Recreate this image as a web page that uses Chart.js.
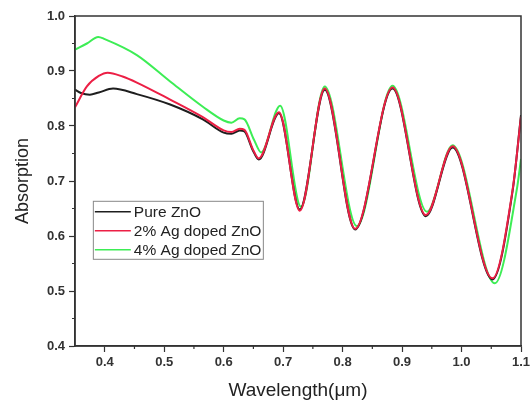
<!DOCTYPE html>
<html>
<head>
<meta charset="utf-8">
<script src="https://cdn.jsdelivr.net/npm/chart.js@4.4.1/dist/chart.umd.min.js"></script>
<style>
    html, body { margin: 0; padding: 0; background: #fff; }
    #wrap { position: relative; width: 530px; height: 400px; }
</style>
</head>
<body>
<div id="wrap"><canvas id="chart" width="530" height="400"></canvas></div>
<script>
// Wavelength (um) / absorption values
var pureX = [0.35, 0.36, 0.375, 0.39, 0.414, 0.454, 0.51, 0.565, 0.60, 0.613, 0.627, 0.635, 0.649, 0.659, 0.693, 0.728, 0.770, 0.821, 0.884, 0.940, 0.985, 1.052, 1.086, 1.1];
var pureY = [0.866, 0.860, 0.857, 0.861, 0.868, 0.858, 0.839, 0.812, 0.788, 0.786, 0.792, 0.790, 0.756, 0.739, 0.823, 0.648, 0.866, 0.612, 0.868, 0.636, 0.761, 0.521, 0.683, 0.82];

var agTwoX = [0.35, 0.37, 0.39, 0.405, 0.43, 0.454, 0.51, 0.565, 0.60, 0.613, 0.627, 0.635, 0.649, 0.659, 0.693, 0.728, 0.770, 0.821, 0.884, 0.940, 0.985, 1.052, 1.086, 1.1];
var agTwoY = [0.834, 0.872, 0.891, 0.897, 0.890, 0.879, 0.848, 0.816, 0.792, 0.789, 0.795, 0.793, 0.758, 0.741, 0.825, 0.646, 0.868, 0.613, 0.870, 0.638, 0.763, 0.523, 0.685, 0.817];

var agFourX = [0.35, 0.37, 0.389, 0.40, 0.454, 0.51, 0.565, 0.60, 0.613, 0.627, 0.635, 0.651, 0.663, 0.695, 0.730, 0.770, 0.824, 0.884, 0.942, 0.985, 1.056, 1.093, 1.1];
var agFourY = [0.939, 0.950, 0.962, 0.958, 0.929, 0.881, 0.835, 0.810, 0.806, 0.814, 0.812, 0.775, 0.752, 0.837, 0.653, 0.872, 0.618, 0.873, 0.644, 0.765, 0.514, 0.685, 0.74];

var seriesLabels = ['Pure ZnO', '2% Ag doped ZnO', '4% Ag doped ZnO'];
var seriesColors = ['#1e1e1e', '#ec1f45', '#3ded55'];

var xTicks = [0.4, 0.5, 0.6, 0.7, 0.8, 0.9, 1.0, 1.1];
var xMinor = [0.45, 0.55, 0.65, 0.75, 0.85, 0.95, 1.05];
var yTicks = [0.4, 0.5, 0.6, 0.7, 0.8, 0.9, 1.0];
var yMinor = [0.45, 0.55, 0.65, 0.75, 0.85, 0.95];

function toPoints(xs, ys) {
    return xs.map(function(x, i) { return { x: x, y: ys[i] }; });
}

var AXIS_COLOR = '#333';
var tickFont = { family: '"Liberation Sans", Arial, sans-serif', size: 13, weight: 'bold' };

// frame on top/right, minor ticks, and the inset legend
var framePlugin = {
    id: 'frame',
    afterDraw: function(chart) {
        var ctx = chart.ctx;
        var a = chart.chartArea;
        var xs = chart.scales.x, ys = chart.scales.y;
        ctx.save();
        ctx.strokeStyle = AXIS_COLOR;
        ctx.lineWidth = 1.5;
        ctx.strokeRect(a.left, a.top, a.right - a.left, a.bottom - a.top);

        ctx.lineWidth = 1.2;
        ctx.beginPath();
        xMinor.forEach(function(v) {
            var px = xs.getPixelForValue(v);
            ctx.moveTo(px, a.bottom);
            ctx.lineTo(px, a.bottom + 3);
        });
        yMinor.forEach(function(v) {
            var py = ys.getPixelForValue(v);
            ctx.moveTo(a.left, py);
            ctx.lineTo(a.left - 3, py);
        });
        ctx.stroke();

        // legend box
        var w = a.right - a.left, h = a.bottom - a.top;
        var bx = a.left + w * 0.04, by = a.top + h * 0.56;
        var bw = 170, bh = 58;
        ctx.fillStyle = '#fff';
        ctx.fillRect(bx, by, bw, bh);
        ctx.strokeStyle = '#888';
        ctx.lineWidth = 1;
        ctx.strokeRect(bx + 0.5, by + 0.5, bw, bh);
        ctx.font = '15.5px "Liberation Sans", Arial, sans-serif';
        ctx.textBaseline = 'middle';
        seriesLabels.forEach(function(label, i) {
            var ly = by + 11 + i * 19;
            ctx.strokeStyle = seriesColors[i];
            ctx.lineWidth = 1.5;
            ctx.beginPath();
            ctx.moveTo(bx + 2, ly);
            ctx.lineTo(bx + 38, ly);
            ctx.stroke();
            ctx.fillStyle = '#222';
            ctx.fillText(label, bx + 41, ly + 1);
        });
        ctx.restore();
    }
};

var ctx = document.getElementById('chart').getContext('2d');
new Chart(ctx, {
    type: 'line',
    data: {
        datasets: [
            { label: seriesLabels[0], data: toPoints(pureX, pureY), borderColor: seriesColors[0], order: 1 },
            { label: seriesLabels[1], data: toPoints(agTwoX, agTwoY), borderColor: seriesColors[1], order: 0 },
            { label: seriesLabels[2], data: toPoints(agFourX, agFourY), borderColor: seriesColors[2], order: 2 }
        ]
    },
    options: {
        responsive: false,
        animation: false,
        layout: { padding: { top: 16, right: 9, left: 0, bottom: 0 } },
        elements: {
            point: { radius: 0 },
            line: { borderWidth: 2, cubicInterpolationMode: 'monotone', fill: false }
        },
        plugins: {
            legend: { display: false },
            tooltip: { enabled: false }
        },
        scales: {
            x: {
                type: 'linear',
                min: 0.35,
                max: 1.1,
                afterBuildTicks: function(scale) {
                    scale.ticks = xTicks.map(function(v) { return { value: v }; });
                },
                afterFit: function(scale) {
                    scale.height = 54;
                    scale.paddingRight = 0; // let "1.1" hang off the edge like the original
                },
                grid: { drawOnChartArea: false, drawTicks: true, tickLength: 6, tickColor: AXIS_COLOR, tickWidth: 1.2 },
                border: { color: AXIS_COLOR, width: 1.5 },
                ticks: {
                    color: '#333',
                    font: tickFont,
                    padding: 3,
                    maxRotation: 0,
                    autoSkip: false,
                    callback: function(v) { return v.toFixed(1); }
                },
                title: {
                    display: true,
                    text: 'Wavelength(\u03bcm)',
                    color: '#222',
                    font: { family: '"Liberation Sans", Arial, sans-serif', size: 19, lineHeight: 1.0 },
                    padding: { top: 0, bottom: 0 }
                }
            },
            y: {
                min: 0.4,
                max: 1.0,
                afterBuildTicks: function(scale) {
                    scale.ticks = yTicks.map(function(v) { return { value: v }; });
                },
                afterFit: function(scale) { scale.width = 75; },
                grid: { drawOnChartArea: false, drawTicks: true, tickLength: 6, tickColor: AXIS_COLOR, tickWidth: 1.2 },
                border: { color: AXIS_COLOR, width: 1.5 },
                ticks: {
                    color: '#333',
                    font: tickFont,
                    padding: 4,
                    autoSkip: false,
                    callback: function(v) { return v.toFixed(1); }
                },
                title: {
                    display: true,
                    text: 'Absorption',
                    color: '#222',
                    font: { family: '"Liberation Sans", Arial, sans-serif', size: 18, lineHeight: 1.2 },
                    padding: { top: 12, bottom: 0 }
                }
            }
        }
    },
    plugins: [framePlugin]
});
</script>
</body>
</html>
